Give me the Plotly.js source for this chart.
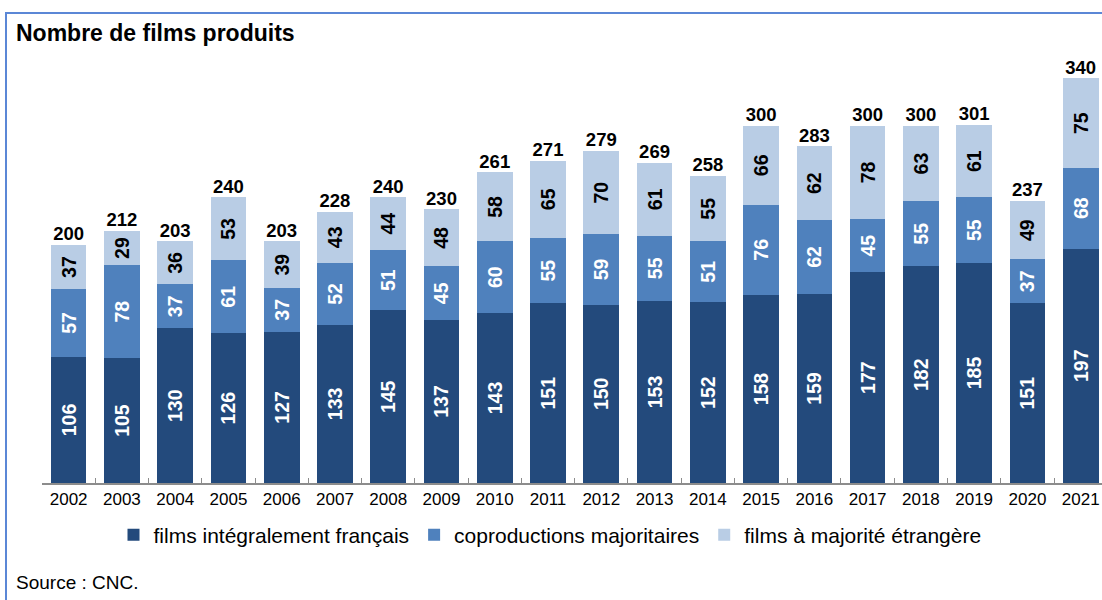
<!DOCTYPE html>
<html>
<head>
<meta charset="utf-8">
<script src="https://cdn.plot.ly/plotly-3.0.1.min.js"></script>
<style>
html,body{margin:0;padding:0;background:#fff;}
#wrap{position:relative;width:1102px;height:600px;}
#chart{position:absolute;left:0;top:0;width:1102px;height:600px;}
#frame{position:absolute;left:5px;top:12px;width:1097px;height:588px;border-left:2px solid #5b87d6;border-top:2px solid #5b87d6;pointer-events:none;}
</style>
</head>
<body>
<div id="wrap"><div id="chart"></div><div id="frame"></div></div>
<script>
const years = ["2002","2003","2004","2005","2006","2007","2008","2009","2010","2011","2012","2013","2014","2015","2016","2017","2018","2019","2020","2021"];
const francais = [106,105,130,126,127,133,145,137,143,151,150,153,152,158,159,177,182,185,151,197];
const coproMaj = [57,78,37,61,37,52,51,45,60,55,59,55,51,76,62,45,55,55,37,68];
const majEtrangere = [37,29,36,53,39,43,44,48,58,65,70,61,55,66,62,78,63,61,49,75];
const totals = [200,212,203,240,203,228,240,230,261,271,279,269,258,300,283,300,300,301,237,340];
const seriesNames = ["films intégralement français","coproductions majoritaires","films à majorité étrangère"];

const FONT = "Liberation Sans, Arial, sans-serif";
function barTrace(vals, name, color, textColor){
  return {
    type:'bar', x:years, y:vals, name:name,
    marker:{color:color},
    text:vals.map(String), textposition:'inside', textangle:-90,
    insidetextanchor:'middle', constraintext:'none',
    insidetextfont:{family:FONT, size:19.5, color:textColor, weight:'bold'},
    hoverinfo:'skip'
  };
}
const data = [
  barTrace(francais, seriesNames[0], '#234a7c', '#ffffff'),
  barTrace(coproMaj, seriesNames[1], '#4f81bd', '#ffffff'),
  barTrace(majEtrangere, seriesNames[2], '#b9cde5', '#000000'),
  {type:'scatter', mode:'text', x:years, y:totals, text:totals.map(String),
   textposition:'top center', showlegend:false, hoverinfo:'skip',
   textfont:{family:FONT, size:18.5, color:'#000', weight:'bold'}}
];
const layout = {
  width:1102, height:600,
  margin:{l:42, r:0, t:60, b:117},
  barmode:'stack', bargap:0.33,
  paper_bgcolor:'#fff', plot_bgcolor:'#fff',
  font:{family:FONT, color:'#000'},
  title:{text:'<b>Nombre de films produits</b>', x:16/1102, xanchor:'left', xref:'container', y:1-33/600, yanchor:'middle', yref:'container', font:{family:FONT, size:23, color:'#000'}},
  xaxis:{type:'category', range:[-0.5,19.4], showline:true, linecolor:'#8c8c8c', linewidth:1.5,
         ticks:'inside', tickson:'boundaries', ticklen:5, tickcolor:'#8c8c8c',
         tickfont:{family:FONT, size:17, color:'#000'}, showgrid:false, zeroline:false, fixedrange:true},
  yaxis:{range:[0,355.5], visible:false, showgrid:false, zeroline:false, fixedrange:true},
  legend:{orientation:'h', x:(550-42)/1060, xanchor:'center', y:1-(535-60)/423, yanchor:'middle',
          font:{family:FONT, size:21, color:'#000'}, traceorder:'normal', itemwidth:30},
  annotations:[{text:'Source : CNC.', xref:'paper', yref:'paper', x:-28/1060, y:1-(582-60)/423, xanchor:'left', yanchor:'middle', showarrow:false, font:{family:FONT, size:19, color:'#000'}}],
  showlegend:true
};
Plotly.newPlot('chart', data, layout, {displayModeBar:false, staticPlot:true});
</script>
</body>
</html>
